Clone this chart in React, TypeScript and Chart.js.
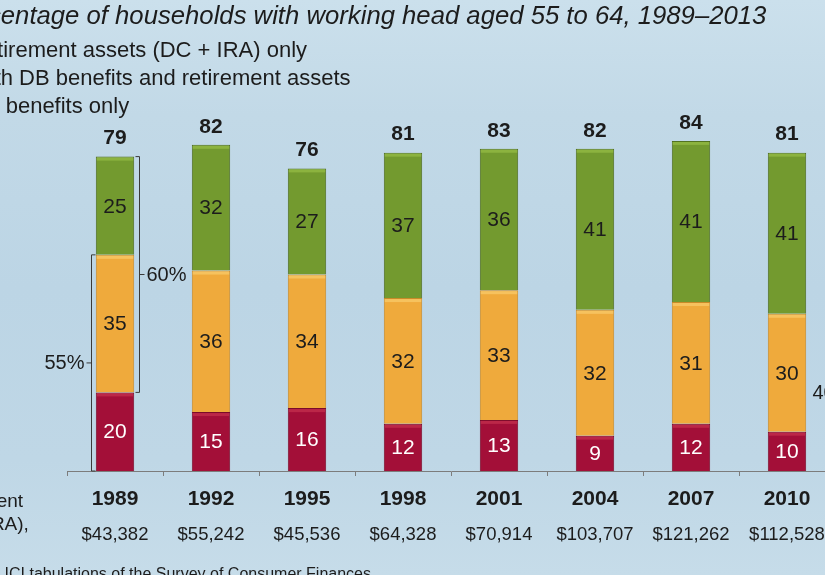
import { useEffect, useRef } from 'react';
import { Chart, registerables } from 'chart.js';

Chart.register(...registerables);

// Survey years and the median retirement assets shown under each one
const years = ['1989', '1992', '1995', '1998', '2001', '2004', '2007', '2010'];
const medianAssets = ['$43,382', '$55,242', '$45,536', '$64,328', '$70,914', '$103,707', '$121,262', '$112,528'];

// Percent of households in each group, stacked bottom to top
const dbOnly = [20, 15, 16, 12, 13, 9, 12, 10];
const dbAndRetirement = [35, 36, 34, 32, 33, 32, 31, 30];
const retirementOnly = [25, 32, 27, 37, 36, 41, 41, 41];
const totals = [79, 82, 76, 81, 83, 82, 84, 81];

const seriesNames = [
  'Retirement assets (DC + IRA) only',
  'With DB benefits and retirement assets',
  'DB benefits only',
];
const titleText = 'Percentage of households with working head aged 55 to 64, 1989–2013';
const assetsNote = ['Median retirement', 'assets (DC + IRA),'];
const sourceText = 'Source: ICI tabulations of the Survey of Consumer Finances';

// Brackets beside bars: category index, side, value span, label
const brackets = [
  { index: 0, side: 'right', from: 20, to: 80, label: '60%' },
  { index: 0, side: 'left', from: 0, to: 55, label: '55%' },
  { index: 8, side: 'left', from: 0, to: 40, label: '40%' },
];

const FONT = "'Liberation Sans', Arial, Helvetica, sans-serif";
const INK = '#1c1c1c';
const GREEN = '#739a2f';
const ORANGE = '#efaa3c';
const RED = '#a30f38';
const BAR_PCT = 0.4;
const SHIFT_X = 140; // canvas sits this far left of the visible frame

const decorations = {
  id: 'decorations',
  afterDatasetsDraw(chart: any) {
    const ctx = chart.ctx as CanvasRenderingContext2D;
    const xs = chart.scales.x;
    const ys = chart.scales.y;
    const highlight = ['#bb2748', '#f6c25e', '#8cb33f'];

    ctx.save();
    // bevel highlight along the top of each segment
    chart.data.datasets.forEach((ds: any, di: number) => {
      const meta = chart.getDatasetMeta(di);
      meta.data.forEach((bar: any) => {
        const w = bar.width;
        ctx.fillStyle = highlight[di];
        ctx.fillRect(bar.x - w / 2 + 1, bar.y + 1, w - 2, 3);
      });
    });

    // segment values
    ctx.textAlign = 'center';
    ctx.textBaseline = 'middle';
    chart.data.datasets.forEach((ds: any, di: number) => {
      const meta = chart.getDatasetMeta(di);
      meta.data.forEach((bar: any, i: number) => {
        const mid = (bar.y + bar.base) / 2;
        ctx.font = `21px ${FONT}`;
        ctx.fillStyle = di === 0 ? '#ffffff' : INK;
        ctx.fillText(String(ds.data[i]), bar.x, mid + 1);
      });
    });

    // totals above each stack
    const topMeta = chart.getDatasetMeta(chart.data.datasets.length - 1);
    ctx.font = `bold 21px ${FONT}`;
    ctx.fillStyle = INK;
    topMeta.data.forEach((bar: any, i: number) => {
      ctx.fillText(String(totals[i]), bar.x, bar.y - 18);
    });

    // brackets
    const half = (xs.width / years.length) * BAR_PCT / 2;
    ctx.strokeStyle = '#3a3a3a';
    ctx.lineWidth = 1;
    ctx.font = `20px ${FONT}`;
    brackets.forEach((b) => {
      const xc = xs.getPixelForValue(b.index);
      const y1 = ys.getPixelForValue(b.from);
      const y2 = ys.getPixelForValue(b.to);
      const ym = (y1 + y2) / 2;
      const dir = b.side === 'right' ? 1 : -1;
      const bx = Math.round(xc + dir * (half + 5)) + 0.5;
      ctx.beginPath();
      ctx.moveTo(bx - dir * 4, y2);
      ctx.lineTo(bx, y2);
      ctx.lineTo(bx, y1);
      ctx.lineTo(bx - dir * 4, y1);
      ctx.moveTo(bx, ym);
      ctx.lineTo(bx + dir * 5, ym);
      ctx.stroke();
      ctx.textAlign = b.side === 'right' ? 'left' : 'right';
      ctx.fillText(b.label, bx + dir * 7, ym + 1);
    });
    ctx.restore();
  },
  afterDraw(chart: any) {
    const ctx = chart.ctx as CanvasRenderingContext2D;
    const xs = chart.scales.x;
    ctx.save();
    ctx.fillStyle = INK;
    ctx.textBaseline = 'alphabetic';

    // title
    ctx.textAlign = 'left';
    ctx.font = `italic 25.7px ${FONT}`;
    ctx.fillText(titleText, SHIFT_X - 52, 24);

    // legend
    const swatch = [GREEN, ORANGE, RED];
    const baselines = [57, 85, 113];
    ctx.font = `22px ${FONT}`;
    seriesNames.forEach((name, i) => {
      ctx.fillStyle = swatch[i];
      ctx.fillRect(SHIFT_X - 56, baselines[i] - 15, 16, 16);
      ctx.fillStyle = INK;
      ctx.fillText(name, SHIFT_X - 31, baselines[i]);
    });

    // median assets row
    ctx.textAlign = 'center';
    ctx.font = `18.5px ${FONT}`;
    medianAssets.forEach((v, i) => {
      ctx.fillText(v, xs.getPixelForValue(i), 540);
    });

    // row caption at left
    ctx.textAlign = 'left';
    ctx.font = `19px ${FONT}`;
    ctx.fillText(assetsNote[0], SHIFT_X - 130, 507);
    ctx.fillText(assetsNote[1], SHIFT_X - 130, 530);

    // source
    ctx.font = `16px ${FONT}`;
    ctx.fillText(sourceText, SHIFT_X - 55, 579);
    ctx.restore();
  },
};

export default function App() {
  const ref = useRef<HTMLCanvasElement>(null);

  useEffect(() => {
    const canvas = ref.current;
    if (!canvas) return;
    const chart = new Chart(canvas, {
      type: 'bar',
      data: {
        labels: years,
        datasets: [
          {
            label: seriesNames[2],
            data: dbOnly,
            backgroundColor: RED,
            borderColor: '#7a0b2a',
            borderWidth: 1,
          },
          {
            label: seriesNames[1],
            data: dbAndRetirement,
            backgroundColor: ORANGE,
            borderColor: '#c88a28',
            borderWidth: 1,
          },
          {
            label: seriesNames[0],
            data: retirementOnly,
            backgroundColor: GREEN,
            borderColor: '#4c6a1e',
            borderWidth: 1,
          },
        ],
      },
      options: {
        responsive: false,
        animation: false,
        devicePixelRatio: 1,
        datasets: { bar: { barPercentage: BAR_PCT, categoryPercentage: 1 } },
        layout: { padding: { left: 67 + SHIFT_X, right: 10, top: 78, bottom: 77 } },
        plugins: { legend: { display: false }, title: { display: false }, tooltip: { enabled: false } },
        scales: {
          x: {
            stacked: true,
            grid: {
              offset: true,
              drawOnChartArea: false,
              drawTicks: true,
              tickLength: 5,
              color: '#7c7c7c',
            },
            border: { display: true, color: '#7c7c7c' },
            ticks: {
              padding: 13,
              color: INK,
              font: { family: FONT, size: 21, weight: 'bold', lineHeight: 1 },
            },
          },
          y: {
            stacked: true,
            display: false,
            min: 0,
            max: 100,
          },
        },
      },
      plugins: [decorations],
    });
    return () => chart.destroy();
  }, []);

  return (
    <div
      style={{
        position: 'fixed',
        left: 0,
        top: 0,
        width: 825,
        height: 575,
        overflow: 'hidden',
        background:
          'linear-gradient(180deg, #cbe0ec 0%, #c2d9e7 20%, #bcd5e5 50%, #bfd7e6 80%, #c6dce9 100%)',
      }}
    >
      <canvas
        ref={ref}
        width={985}
        height={600}
        style={{ position: 'absolute', left: -SHIFT_X, top: 0, width: 985, height: 600 }}
      />
    </div>
  );
}
